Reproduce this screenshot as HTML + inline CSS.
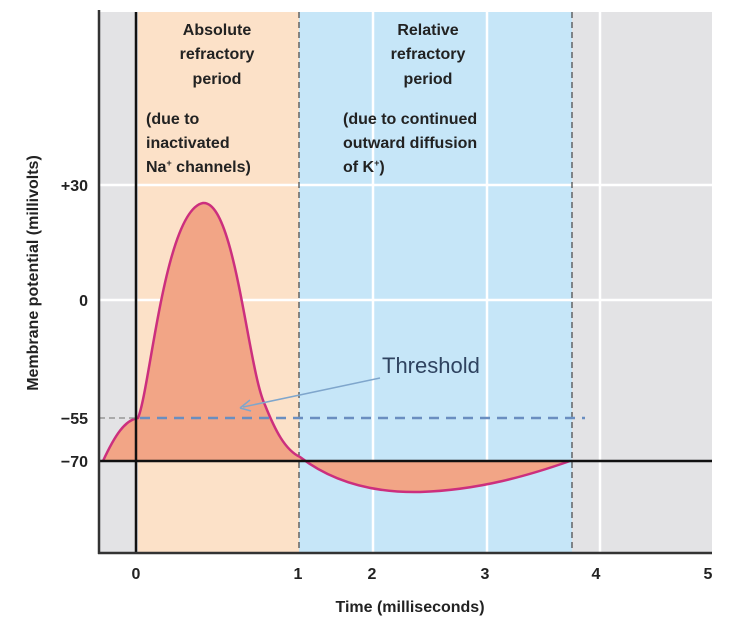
<!DOCTYPE html>
<html><head><meta charset="utf-8"><style>
body{margin:0;background:#fff;}
svg{display:block;font-family:"Liberation Sans",sans-serif;}
</style></head><body>
<svg width="734" height="620" viewBox="0 0 734 620" xmlns="http://www.w3.org/2000/svg">
<rect x="99" y="12" width="613" height="541" fill="#e3e3e5"/>
<rect x="138" y="12" width="161" height="541" fill="#fce1c8"/>
<rect x="299" y="12" width="273" height="541" fill="#c6e6f8"/>
<g stroke="#fff" stroke-width="2.5">
<line x1="373" y1="12" x2="373" y2="553"/><line x1="487" y1="12" x2="487" y2="553"/><line x1="600" y1="12" x2="600" y2="553"/>
<line x1="99" y1="185" x2="712" y2="185"/><line x1="99" y1="300" x2="712" y2="300"/>
</g>
<g stroke="#444" stroke-width="1.2" stroke-dasharray="6,4">
<line x1="299" y1="12" x2="299" y2="553"/><line x1="572" y1="12" x2="572" y2="553"/>
</g>
<path d="M103,461 C115,435 125,420 138,418 C150,390 165,210 203,203 C235,200 248,370 265,405 C275,430 285,450 300,457 C330,480 370,493 420,492 C480,490 530,475 570,461 Z" fill="#f2a586"/>
<path d="M103,461 C115,435 125,420 138,418 C150,390 165,210 203,203 C235,200 248,370 265,405 C275,430 285,450 300,457 C330,480 370,493 420,492 C480,490 530,475 570,461" fill="none" stroke="#cc2f7e" stroke-width="2.5"/>
<line x1="99" y1="418" x2="138" y2="418" stroke="#888" stroke-width="1.2" stroke-dasharray="6,4"/>
<line x1="140" y1="418" x2="585" y2="418" stroke="#6a8ec0" stroke-width="2.5" stroke-dasharray="10,7"/>
<line x1="99" y1="461" x2="712" y2="461" stroke="#111" stroke-width="2.5"/>
<line x1="136" y1="12" x2="136" y2="553" stroke="#111" stroke-width="2.5"/>
<line x1="99" y1="10" x2="99" y2="554" stroke="#333" stroke-width="2.5"/>
<line x1="98" y1="553" x2="712" y2="553" stroke="#333" stroke-width="2.5"/>
<line x1="380" y1="378" x2="243" y2="407" stroke="#7fa6cc" stroke-width="1.5"/>
<path d="M240,408 L250,400 M240,408 L251,411" stroke="#7fa6cc" stroke-width="1.5" fill="none"/>
<text x="382" y="373" font-size="22" fill="#2f4360" font-family="'Liberation Sans',sans-serif">Threshold</text>
<g font-weight="bold" font-size="16" fill="#222" text-anchor="middle">
<text x="217" y="35">Absolute</text><text x="217" y="59">refractory</text><text x="217" y="84">period</text>
<text x="428" y="35">Relative</text><text x="428" y="59">refractory</text><text x="428" y="84">period</text>
</g>
<g font-weight="bold" font-size="16" fill="#222">
<text x="146" y="124">(due to</text><text x="146" y="148">inactivated</text><text x="146" y="172">Na<tspan font-size="9" dy="-6">+</tspan><tspan dy="6"> channels)</tspan></text>
<text x="343" y="124">(due to continued</text><text x="343" y="148">outward diffusion</text><text x="343" y="172">of K<tspan font-size="9" dy="-6">+</tspan><tspan dy="6">)</tspan></text>
</g>
<g font-weight="bold" font-size="16" fill="#222" text-anchor="end">
<text x="88" y="191">+30</text><text x="88" y="306">0</text><text x="88" y="424">−55</text><text x="88" y="467">−70</text>
</g>
<g font-weight="bold" font-size="16" fill="#222" text-anchor="middle">
<text x="136" y="579">0</text><text x="298" y="579">1</text><text x="372" y="579">2</text><text x="485" y="579">3</text><text x="596" y="579">4</text><text x="708" y="579">5</text>
<text x="410" y="612">Time (milliseconds)</text>
</g>
<text transform="translate(38,273) rotate(-90)" text-anchor="middle" font-weight="bold" font-size="16" fill="#222">Membrane potential (millivolts)</text>
</svg>
</body></html>
